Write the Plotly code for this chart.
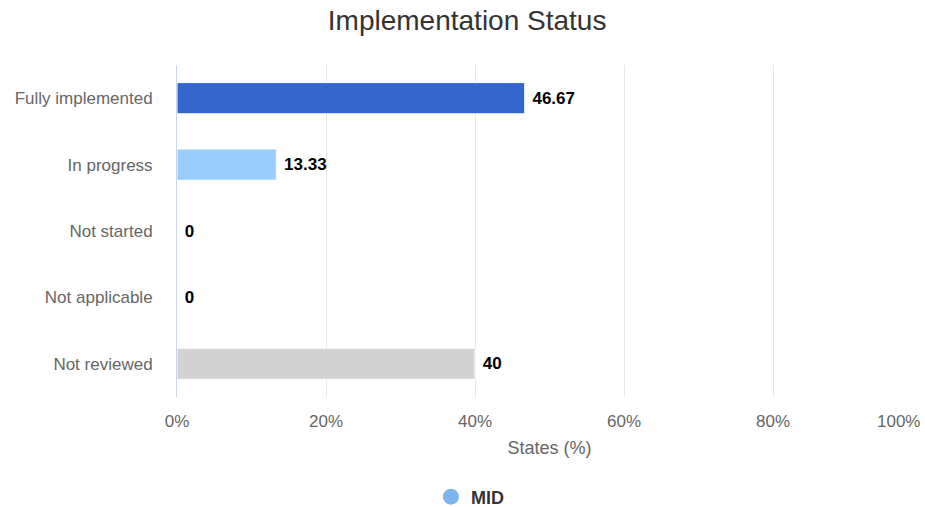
import plotly.graph_objects as go

categories = ["Fully implemented", "In progress", "Not started", "Not applicable", "Not reviewed"]
values = [46.67, 13.33, 0, 0, 40]
labels = ["46.67", "13.33", "0", "0", "40"]
bar_colors = ["#3366cc", "#99ccff", "#7cb5ec", "#7cb5ec", "#d3d3d3"]
tick_vals = [0, 20, 40, 60, 80, 100]
tick_text = ["0%", "20%", "40%", "60%", "80%", "100%"]
series_name = "MID"

FONT = "Liberation Sans, Arial, sans-serif"

fig = go.Figure()
fig.add_trace(go.Bar(
    y=categories, x=values, orientation="h",
    marker=dict(color=bar_colors, line=dict(color="#ffffff", width=1)),
    text=labels, texttemplate="\u00a0%{text}", textposition="outside", cliponaxis=False,
    textfont=dict(family=FONT, size=17, color="#000000", weight="bold"),
    width=0.47, showlegend=False, hoverinfo="skip",
))
fig.add_trace(go.Scatter(
    x=[None], y=[None], mode="markers", name=series_name,
    marker=dict(symbol="circle", size=18, color="#7cb5ec"),
    showlegend=True,
))

# last tick label shifted left to stay inside the chart (as in the reference)
shown_text = tick_text[:-1] + [""]
fig.add_annotation(
    x=tick_vals[-1], xref="x", y=0, yref="paper", yanchor="top", xanchor="right",
    text=tick_text[-1], showarrow=False, yshift=-13,
    font=dict(family=FONT, size=17, color="#666666"),
)

fig.update_layout(
    width=925, height=507,
    margin=dict(l=177, r=3, t=65, b=110, autoexpand=False),
    paper_bgcolor="#ffffff", plot_bgcolor="#ffffff",
    font=dict(family=FONT, color="#666666"),
    title=dict(text="Implementation Status", x=0.505, xref="container", xanchor="center",
               y=0.96, yanchor="middle", font=dict(size=28, color="#333333")),
    legend=dict(orientation="h", xref="container", x=0.508, xanchor="center",
                y=-0.301, yanchor="middle",
                font=dict(size=18, color="#333333", weight="bold")),
    showlegend=True,
)
fig.update_xaxes(
    range=[0, 100], tickvals=tick_vals, ticktext=shown_text, automargin=False,
    showgrid=True, gridcolor="#e6e6e6", gridwidth=1, zeroline=False,
    showline=False, ticks="outside", ticklen=9, tickcolor="rgba(0,0,0,0)",
    tickfont=dict(size=17, color="#666666"),
    title=dict(text="States (%)", font=dict(size=18, color="#666666"), standoff=10),
)
fig.update_yaxes(
    categoryorder="array", categoryarray=categories[::-1], automargin=False,
    showgrid=False, zeroline=False, showline=True, linecolor="#ccd6eb", linewidth=1,
    ticks="outside", ticklen=20, tickcolor="rgba(0,0,0,0)",
    tickfont=dict(size=17, color="#666666"),
)

fig.write_html(
    "out.html",
    config={"displayModeBar": False},
    post_script="document.body.style.margin='0';document.body.style.overflow='hidden';",
)
